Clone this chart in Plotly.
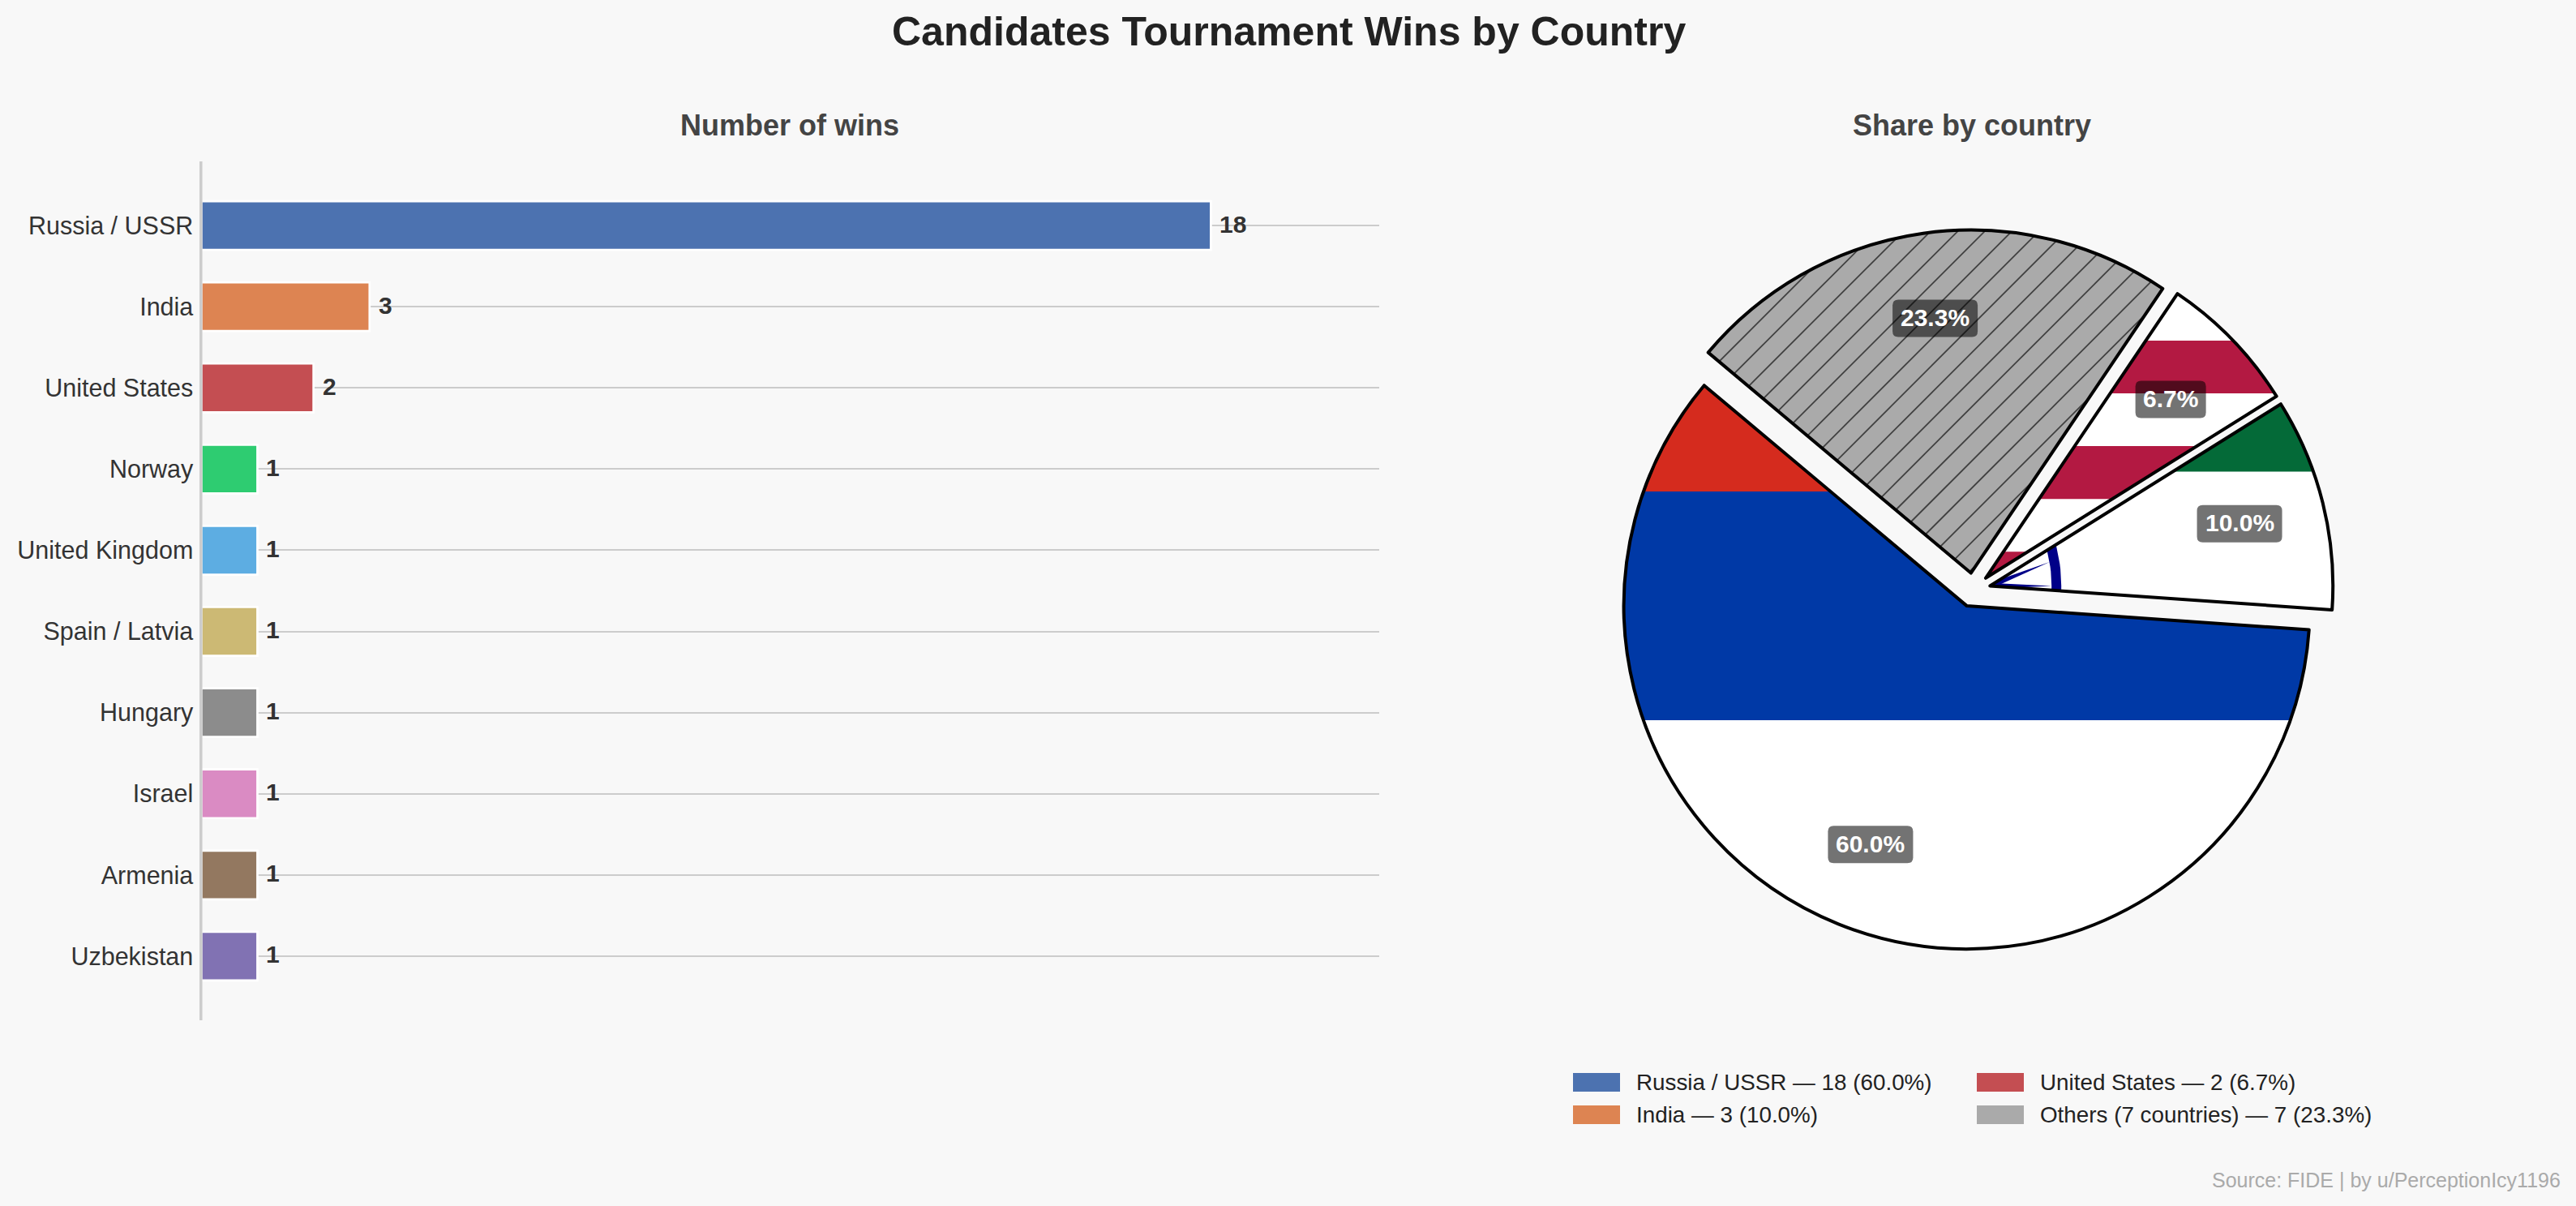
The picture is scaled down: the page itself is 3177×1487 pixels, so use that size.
import math
import plotly.graph_objects as go

WIDTH, HEIGHT = 3177, 1487
BG = "#F8F8F8"
FONT = "Liberation Sans"

# Wins per country
countries = ["Russia / USSR", "India", "United States", "Norway", "United Kingdom",
             "Spain / Latvia", "Hungary", "Israel", "Armenia", "Uzbekistan"]
wins = [18, 3, 2, 1, 1, 1, 1, 1, 1, 1]
bar_colors = ["#4C72B0", "#DD8452", "#C44E52", "#2ECC71", "#5DADE2",
              "#CCB974", "#8C8C8C", "#DA8BC3", "#937860", "#8172B3"]

# Aggregated shares for the pie
pie_labels = ["Russia / USSR", "India", "United States", "Others (7 countries)"]
pie_wins = [18, 3, 2, 7]
legend_colors = ["#4C72B0", "#DD8452", "#C44E52", "#AAAAAA"]

# Pie geometry, in page pixels
PIE_CX, PIE_CY, PIE_R = 2433.7, 727.5, 423.0
PULL = 0.05
START_DEG = 140.0

# Bar panel placement, in page pixels
BAR_LEFT, BAR_RIGHT, BAR_TOP, BAR_BOTTOM = 248.3, 1700.9, 199.0, 1258.0
X_MAX = 21.0


def px(x):
    return x / WIDTH


def py(y):
    return 1 - y / HEIGHT


def clip(poly, a, b, c):
    """Keep the part of a polygon where a*x + b*y + c >= 0."""
    out = []
    for i, (x0, y0) in enumerate(poly):
        x1, y1 = poly[(i + 1) % len(poly)]
        d0 = a * x0 + b * y0 + c
        d1 = a * x1 + b * y1 + c
        if d0 >= 0:
            out.append((x0, y0))
        if (d0 >= 0) != (d1 >= 0):
            t = d0 / (d0 - d1)
            out.append((x0 + t * (x1 - x0), y0 + t * (y1 - y0)))
    return out


def band(poly, top, bottom):
    return clip(clip(poly, 0, 1, -top), 0, -1, bottom)


def wedge(share_start, share_end):
    """Wedge outline plus its pulled-out apex, from cumulative shares."""
    a0 = START_DEG + 360 * share_start
    a1 = START_DEG + 360 * share_end
    mid = math.radians((a0 + a1) / 2)
    ax = PIE_CX + PULL * PIE_R * math.cos(mid)
    ay = PIE_CY - PULL * PIE_R * math.sin(mid)
    n = max(8, int((a1 - a0) * 4))
    pts = [(ax, ay)]
    for i in range(n + 1):
        t = math.radians(a0 + (a1 - a0) * i / n)
        pts.append((ax + PIE_R * math.cos(t), ay - PIE_R * math.sin(t)))
    return pts, ax, ay, a0, a1, mid


def fill_trace(poly, color):
    xs = [p[0] for p in poly] + [poly[0][0]]
    ys = [p[1] for p in poly] + [poly[0][1]]
    return go.Scatter(x=xs, y=ys, mode="lines", fill="toself", fillcolor=color,
                      line=dict(width=0), xaxis="x2", yaxis="y2",
                      hoverinfo="skip", showlegend=False)


def clip_to_edges(poly, ax, ay, a0, a1):
    """Restrict a shape to the two straight edges of a wedge."""
    for ang, sign in ((a0, 1), (a1, -1)):
        t = math.radians(ang)
        nx, ny = -math.sin(t) * sign, -math.cos(t) * sign
        poly = clip(poly, nx, ny, -(nx * ax + ny * ay))
    return poly


fig = go.Figure()

# Horizontal bars
fig.add_trace(go.Bar(
    x=wins, y=countries, orientation="h", width=0.6,
    marker=dict(color=bar_colors, line=dict(color="white", width=2.7)),
    hoverinfo="skip", showlegend=False, xaxis="x", yaxis="y",
))

# Flag fills and hatching of the pie wedges sit beneath the pie outline
total = sum(pie_wins)
shares = []
acc = 0.0
for v in pie_wins:
    shares.append((acc, acc + v / total))
    acc += v / total

# Tricolour wedge
poly, ax, ay, a0, a1, mid = wedge(*shares[0])
third = 2 * PIE_R / 3
top = ay - PIE_R
fig.add_trace(fill_trace(poly, "#FFFFFF"))
fig.add_trace(fill_trace(band(poly, top, top + third), "#D52B1E"))
fig.add_trace(fill_trace(band(poly, top + third, top + 2 * third), "#0039A6"))

# Wedge with green band and wheel
poly, ax, ay, a0, a1, mid = wedge(*shares[1])
top = ay - PIE_R
fig.add_trace(fill_trace(poly, "#FFFFFF"))
fig.add_trace(fill_trace(band(poly, top, top + third), "#046A38"))
RING_OUT, RING_IN, STRETCH = 88.0, 76.0, 1.5
steps = range(0, 361, 3)
ring = [(ax + RING_OUT * math.cos(math.radians(t)), ay - STRETCH * RING_OUT * math.sin(math.radians(t))) for t in steps]
ring += [(ax + RING_IN * math.cos(math.radians(t)), ay - STRETCH * RING_IN * math.sin(math.radians(t))) for t in reversed(steps)]
fig.add_trace(fill_trace(clip_to_edges(ring, ax, ay, a0, a1), "#000088"))
for k in range(0, 3):
    t = math.radians(15 * k)
    tipx, tipy = ax + RING_IN * math.cos(t), ay - STRETCH * RING_IN * math.sin(t)
    dx, dy = tipx - ax, tipy - ay
    n = math.hypot(dx, dy)
    hw = 3.5
    spoke = [(ax - dy / n * hw, ay + dx / n * hw), (ax + dy / n * hw, ay - dx / n * hw), (tipx, tipy)]
    spoke = clip_to_edges(spoke, ax, ay, a0, a1)
    if len(spoke) >= 3:
        fig.add_trace(fill_trace(spoke, "#000088"))

# Striped wedge: thirteen stripes spanning the wedge's full circle
poly, ax, ay, a0, a1, mid = wedge(*shares[2])
stripe = 2 * PIE_R / 13
top = ay - PIE_R
fig.add_trace(fill_trace(poly, "#FFFFFF"))
for i in range(0, 13, 2):
    part = band(poly, top + i * stripe, top + (i + 1) * stripe)
    if len(part) >= 3:
        fig.add_trace(fill_trace(part, "#B31942"))

# Grey wedge with diagonal hatching
poly, ax, ay, a0, a1, mid = wedge(*shares[3])
fig.add_trace(fill_trace(poly, "#AAAAAA"))
HATCH_ORIGIN, HATCH_STEP = 2566.0, 33.4
hx, hy = [], []
for n in range(-20, 40):
    k = HATCH_ORIGIN + n * HATCH_STEP
    hits = []
    for i, (x0, y0) in enumerate(poly):
        x1, y1 = poly[(i + 1) % len(poly)]
        d0, d1 = x0 + y0 - k, x1 + y1 - k
        if (d0 >= 0) != (d1 >= 0):
            t = d0 / (d0 - d1)
            hits.append((x0 + t * (x1 - x0), y0 + t * (y1 - y0)))
    if len(hits) >= 2:
        hits.sort()
        hx += [hits[0][0], hits[-1][0], None]
        hy += [hits[0][1], hits[-1][1], None]
fig.add_trace(go.Scatter(x=hx, y=hy, mode="lines", line=dict(color="#404040", width=1.8),
                         xaxis="x2", yaxis="y2", hoverinfo="skip", showlegend=False))

# Pie outline on top of the fills; with counterclockwise order, rotation
# marks where the first slice ends
half = PIE_R * (1 + PULL)
first_end = START_DEG + 360 * shares[0][1]
fig.add_trace(go.Pie(
    labels=pie_labels, values=pie_wins, sort=False, direction="counterclockwise",
    rotation=90 - first_end, pull=[PULL] * len(pie_wins), textinfo="none",
    marker=dict(colors=["rgba(0,0,0,0)"] * len(pie_wins), line=dict(color="black", width=4)),
    domain=dict(x=[px(PIE_CX - half), px(PIE_CX + half)], y=[py(PIE_CY + half), py(PIE_CY - half)]),
    hoverinfo="skip", showlegend=False,
))

annotations = []
shapes = []

# Left spine, drawn over the bars' white edges
SPINE_X = 247.8
shapes.append(dict(type="line", xref="paper", yref="paper", x0=px(SPINE_X), x1=px(SPINE_X),
                   y0=py(BAR_BOTTOM), y1=py(BAR_TOP), line=dict(color="#CCCCCC", width=3.5),
                   layer="above"))


def text(x, y, s, size, color, bold=False, anchor="center"):
    annotations.append(dict(
        x=px(x), y=py(y), xref="paper", yref="paper", xanchor=anchor, yanchor="middle",
        text=f"<b>{s}</b>" if bold else s, showarrow=False,
        font=dict(family=FONT, size=size, color=color),
    ))


text(1589.5, 39, "Candidates Tournament Wins by Country", 50, "#222222", bold=True)
text(974, 154, "Number of wins", 36, "#444444", bold=True)
text(2432, 154, "Share by country", 36, "#444444", bold=True)
text(3160, 1455, "Source: FIDE | by u/PerceptionIcy1196", 25, "#AAAAAA", anchor="right")

# Value labels at the bar ends
for name, v in zip(countries, wins):
    annotations.append(dict(
        x=v, y=name, xref="x", yref="y", xanchor="left", yanchor="middle",
        xshift=9, yshift=2, text=f"<b>{v}</b>", showarrow=False,
        font=dict(family=FONT, size=30, color="#333333"),
    ))

# Percentage labels on dark rounded plates
for v, (s0, s1) in zip(pie_wins, shares):
    _, ax, ay, _, _, mid = wedge(s0, s1)
    lx = ax + 0.75 * PIE_R * math.cos(mid)
    ly = ay - 0.75 * PIE_R * math.sin(mid)
    label = f"{100 * v / total:.1f}%"
    w = 105 if len(label) == 5 else 87
    h, rad = 46, 7
    x0, x1, y0, y1 = lx - w / 2, lx + w / 2, ly - h / 2, ly + h / 2
    path = (f"M{x0 + rad},{y0} L{x1 - rad},{y0} Q{x1},{y0} {x1},{y0 + rad} "
            f"L{x1},{y1 - rad} Q{x1},{y1} {x1 - rad},{y1} L{x0 + rad},{y1} "
            f"Q{x0},{y1} {x0},{y1 - rad} L{x0},{y0 + rad} Q{x0},{y0} {x0 + rad},{y0} Z")
    shapes.append(dict(type="path", path=path, xref="x2", yref="y2",
                       fillcolor="rgba(0,0,0,0.55)", line=dict(width=0), layer="above"))
    text(lx, ly - 1, label, 30, "white", bold=True)

# Two-column legend
LEG_X = [1940, 2438]
LEG_Y = [1334.5, 1374.5]
for i, (name, v, c) in enumerate(zip(pie_labels, pie_wins, legend_colors)):
    col, row = i // 2, i % 2
    x, y = LEG_X[col], LEG_Y[row]
    shapes.append(dict(type="rect", xref="paper", yref="paper", x0=px(x), x1=px(x + 58),
                       y0=py(y + 11.5), y1=py(y - 11.5), fillcolor=c, line=dict(width=0)))
    text(x + 76, y, f"{name} — {v} ({100 * v / total:.1f}%)", 27.8, "#222222", anchor="left")

fig.update_layout(
    width=WIDTH, height=HEIGHT, autosize=False, margin=dict(l=0, r=0, t=0, b=0, pad=0),
    paper_bgcolor=BG, plot_bgcolor="rgba(0,0,0,0)", bargap=0.4,
    annotations=annotations, shapes=shapes,
    xaxis=dict(domain=[px(BAR_LEFT), px(BAR_RIGHT)], range=[0, X_MAX], visible=False, fixedrange=True),
    yaxis=dict(domain=[py(BAR_BOTTOM), py(BAR_TOP)], type="category", categoryorder="array",
               categoryarray=countries, range=[9.79, -0.79], showgrid=True, gridcolor="#CCCCCC",
               gridwidth=2, showline=False, ticks="",
               ticklabelstandoff=9, zeroline=False, fixedrange=True,
               tickfont=dict(family=FONT, size=30.5, color="#333333")),
    xaxis2=dict(domain=[0, 1], range=[0, WIDTH], visible=False, fixedrange=True, anchor="y2"),
    yaxis2=dict(domain=[0, 1], range=[HEIGHT, 0], visible=False, fixedrange=True, anchor="x2"),
)

fig.write_html("out.html", config=dict(displayModeBar=False))
